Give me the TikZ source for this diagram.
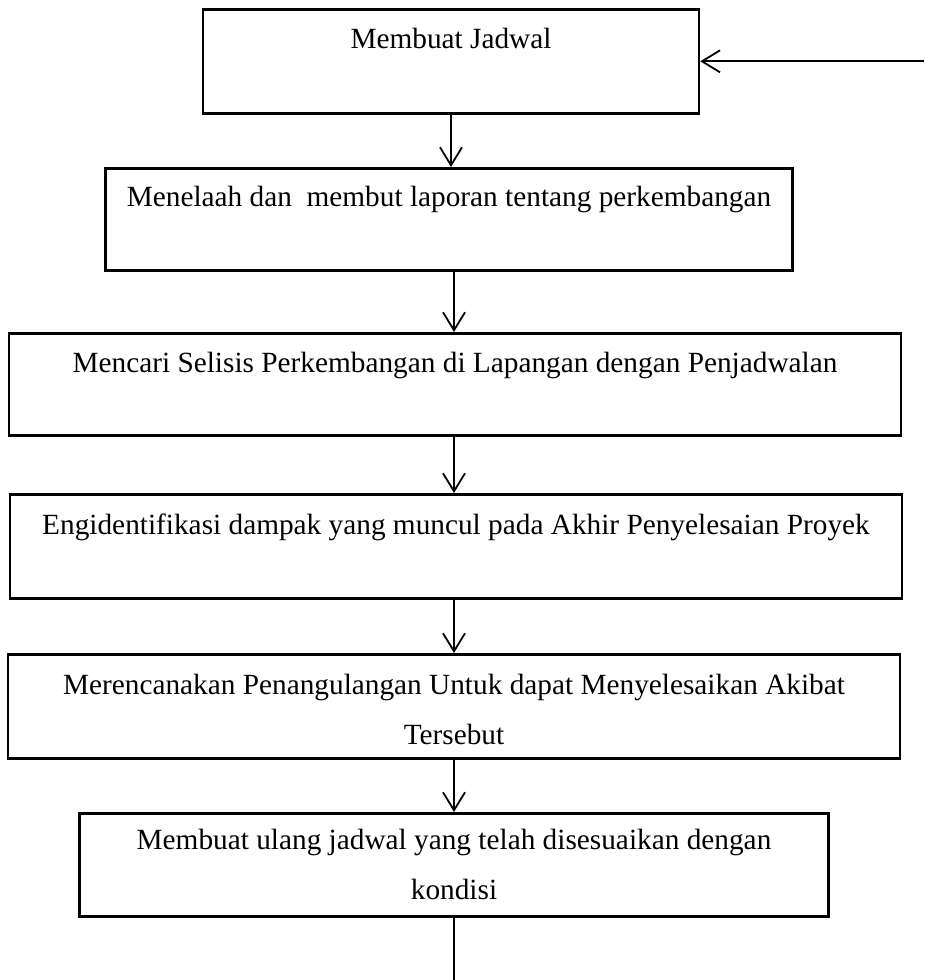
\documentclass[tikz,border=0pt]{standalone}
\usepackage{fontspec}
\setmainfont{Liberation Serif}
\usepackage{xcolor}
\usepackage{tikz}
\usetikzlibrary{arrows.meta,calc}
\tikzset{
  jbox/.style={draw=black, line width=2.6pt, inner sep=0pt, font=\fontsize{29.3pt}{50pt}\selectfont},
  jarrow/.style={line width=1.8pt, -{Straight Barb[length=18pt,width=22pt,line width=1.8pt]}},
  jline/.style={line width=1.8pt}
}
\newcommand{\jstep}[7]{%
 \node[jbox, anchor=north] (#5) at (#1,#2) {\parbox[t][#4][t]{#3}{\centering\rule{0pt}{#6}#7}};}

\begin{document}
\begin{tikzpicture}[x=1pt,y=-1pt]
\useasboundingbox (0,0) rectangle (924,980);
\jstep{451}{8}{496pt}{104pt}{j1}{39pt}{Membuat Jadwal}
\jstep{449}{167}{687pt}{102pt}{j2}{38pt}{Menelaah dan~ membut laporan tentang perkembangan}
\jstep{455}{332}{892pt}{102pt}{j3}{39pt}{Mencari Selisis Perkembangan di Lapangan dengan Penjadwalan}
\jstep{456}{493}{892pt}{104pt}{j4}{40pt}{Engidentifikasi dampak yang muncul pada Akhir Penyelesaian Proyek}
\jstep{454}{653}{892pt}{104pt}{j5}{40pt}{Merencanakan Penangulangan Untuk dapat Menyelesaikan Akibat\\Tersebut}
\jstep{454}{812}{749pt}{103pt}{j6}{36pt}{Membuat ulang jadwal yang telah disesuaikan dengan\\kondisi}
\coordinate (fbout) at (454,980);
\coordinate (fbin) at (924,60);
\draw[jarrow] (j1.south) -- (j1.south |- j2.north);
\draw[jarrow] (j5.north |- j2.south) -- (j5.north |- j3.north);
\draw[jarrow] (j5.north |- j3.south) -- (j5.north |- j4.north);
\draw[jarrow] (j5.north |- j4.south) -- (j5.north);
\draw[jarrow] (j6.north |- j5.south) -- (j6.north);
\draw[jline] (j6.south -| fbout) -- (fbout);
\draw[jarrow] (fbin |- j1.east) -- (j1.east);
\end{tikzpicture}
\end{document}
